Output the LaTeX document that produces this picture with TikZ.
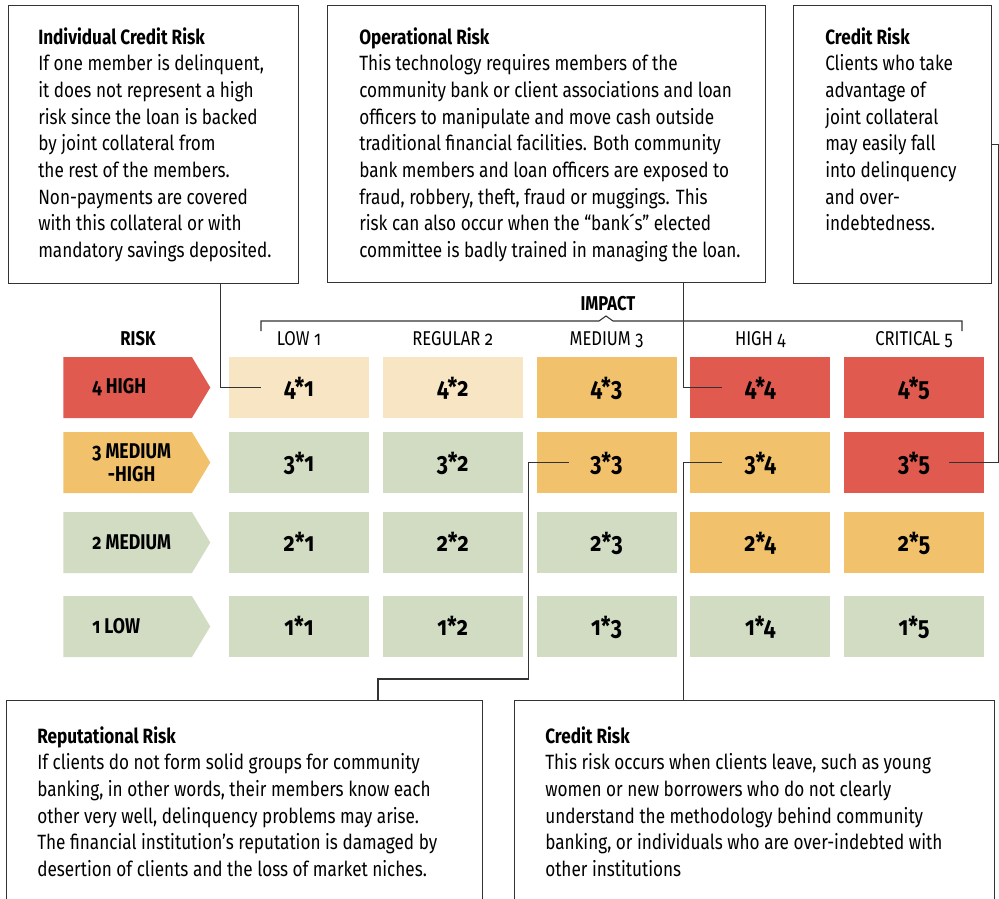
\documentclass[tikz,border=0pt]{standalone}
\usepackage{fontspec}
\setmainfont{Fira Sans}[FakeStretch=0.83,Numbers=OldStyle]
\usetikzlibrary{positioning}
\usetikzlibrary{shapes.symbols}
\definecolor{riskred}{RGB}{224,90,80}
\definecolor{riskorange}{RGB}{241,194,107}
\definecolor{riskcream}{RGB}{247,229,195}
\definecolor{riskgreen}{RGB}{210,220,195}
\definecolor{linegray}{RGB}{51,51,51}

\begin{document}
\begin{tikzpicture}[x=0.75pt,y=0.75pt,yscale=-1,xscale=1,
    notebox/.style={draw=linegray, line width=1pt, inner sep=0pt, anchor=north west},
    notetext/.style={anchor=north west, inner sep=0pt, align=left, font=\fontsize{15.5}{20}\selectfont},
    cell/.style={minimum width=105pt, minimum height=45.75pt, inner sep=0pt, text height=14pt, text depth=0pt, font=\fontsize{19.5}{22}\selectfont\bfseries},
    rowtag/.style={signal, signal to=east, signal pointer angle=118, minimum width=110.25pt, minimum height=45.75pt, inner sep=0pt, anchor=west},
    rowtext/.style={inner sep=0pt, align=center, font=\fontsize{16}{17}\selectfont\bfseries},
    headtext/.style={anchor=base, inner sep=0pt, font=\fontsize{15}{18}\selectfont},
    link/.style={draw=linegray, line width=0.8pt}]
    \useasboundingbox (0,0) rectangle (999,899);

    %Note boxes, top row
    \node[notebox, minimum width=217.5pt, minimum height=208.5pt] (icr) at (8,5) {};
    \node[notetext] (icrtext) at (38,27) {{\bfseries Individual Credit Risk}\\
        If one member is delinquent,\\
        it does not represent a high\\
        risk since the loan is backed\\
        by joint collateral from\\
        the rest of the members.\\
        Non-payments are covered\\
        with this collateral or with\\
        mandatory savings deposited.};
    \node[notebox, minimum width=328.5pt, minimum height=207.75pt] (opr) at (327,5) {};
    \node[notetext] (oprtext) at (359,27) {{\bfseries Operational Risk}\\
        This technology requires members of the\\
        community bank or client associations and loan\\
        officers to manipulate and move cash outside\\
        traditional financial facilities. Both community\\
        bank members and loan officers are exposed to\\
        fraud, robbery, theft, fraud or muggings. This\\
        risk can also occur when the “bank´s” elected\\
        committee is badly trained in managing the loan.};
    \node[notebox, minimum width=148.5pt, minimum height=208.5pt] (crtop) at (793,5) {};
    \node[notetext] (crtoptext) at (825,27) {{\bfseries Credit Risk}\\
        Clients who take\\
        advantage of\\
        joint collateral\\
        may easily fall\\
        into delinquency\\
        and over-\\
        indebtedness.};

    %Note boxes, bottom row
    \node[notebox, minimum width=357pt, minimum height=157.5pt] (rep) at (6,700) {};
    \node[notetext] (reptext) at (37,726) {{\bfseries Reputational Risk}\\
        If clients do not form solid groups for community\\
        banking, in other words, their members know each\\
        other very well, delinquency problems may arise.\\
        The financial institution’s reputation is damaged by\\
        desertion of clients and the loss of market niches.};
    \node[notebox, minimum width=360pt, minimum height=157.5pt] (crbot) at (514,700) {};
    \node[notetext] (crbottext) at (545,726) {{\bfseries Credit Risk}\\
        This risk occurs when clients leave, such as young\\
        women or new borrowers who do not clearly\\
        understand the methodology behind community\\
        banking, or individuals who are over-indebted with\\
        other institutions};

    %Headings
    \node[headtext, font=\fontsize{15}{18}\selectfont\bfseries] (risk) at (138,345) {RISK};
    \node[headtext, font=\fontsize{15}{18}\selectfont\bfseries] (impact) at (608,310) {IMPACT};
    \foreach \lbl [count=\c] in {LOW 1, REGULAR 2, MEDIUM 3, HIGH 4, CRITICAL 5}
        \node[headtext] (h\c) at ({299+153.75*(\c-1)},345) {\lbl};
    %Bracket under IMPACT
    \draw[link] (261,331) -- (261,321) -- (599,321) -- (606,316) -- (613,321) -- (962,321) -- (962,331);

    %Row tags
    \foreach \r/\y/\cl in {4/387.5/riskred, 3/462.5/riskorange, 2/542.5/riskgreen, 1/626.5/riskgreen}
        \node[rowtag, fill=\cl] (r\r) at (63,\y) {};
    \node[rowtext, right=21.75pt of r4.west] (t4) {4 HIGH};
    \node[rowtext, right=21.75pt of r3.west] (t3) {3 MEDIUM\\-HIGH};
    \node[rowtext, right=21.75pt of r2.west] (t2) {2 MEDIUM};
    \node[rowtext, right=21.75pt of r1.west] (t1) {1 LOW};

    %Matrix cells
    \foreach \r/\y/\cols in {4/387.5/{riskcream,riskcream,riskorange,riskred,riskred},
                             3/462.5/{riskgreen,riskgreen,riskorange,riskorange,riskred},
                             2/542.5/{riskgreen,riskgreen,riskgreen,riskorange,riskorange},
                             1/626.5/{riskgreen,riskgreen,riskgreen,riskgreen,riskgreen}}
        \foreach \cl [count=\c] in \cols
            \node[cell, fill=\cl] (c\r\c) at ({299+153.75*(\c-1)},\y) {\r*\c};

    %Connectors
    \draw[link] (icr.south) ++(67,0) |- ([xshift=-28.5pt]c41.center);
    \draw[link] (opr.south) ++(137,0) |- ([xshift=-28.5pt]c44.center);
    \draw[link] (crtop.east) -- ++(6,0) |- ([xshift=26.25pt]c35.center);
    \coordinate (repjog) at (378,679);
    \draw[link] ([xshift=-28.5pt]c33.center) -| ++(-40,216.5) -| (rep.north -| repjog);
    \draw[link] ([xshift=-28.5pt]c34.center) -| ([xshift=-53.25pt]crbot.north);
\end{tikzpicture}
\end{document}
